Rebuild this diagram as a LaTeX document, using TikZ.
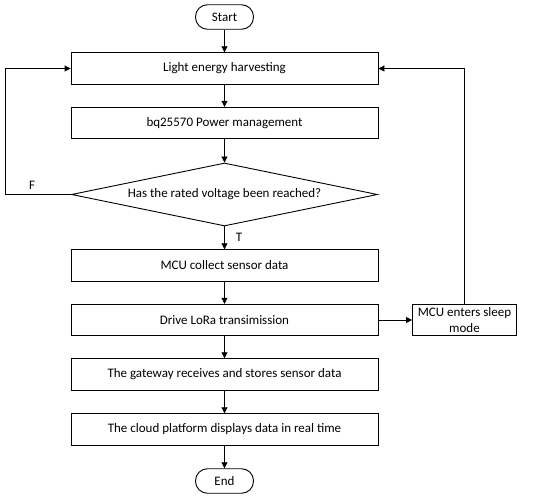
\documentclass[tikz,border=0pt]{standalone}
\usepackage{fontspec}
\setmainfont{Carlito}
\usetikzlibrary{shapes.geometric,arrows.meta}
\begin{document}
\begin{tikzpicture}[x=1pt,y=-1pt, font=\fontsize{13}{16}\selectfont,
  box/.style={draw, line width=0.9pt, minimum width=307pt, minimum height=31.5pt, inner sep=0pt},
  term/.style={draw, line width=0.9pt, rounded corners=12pt, minimum width=58pt, minimum height=24.5pt, inner sep=0pt},
  decision/.style={draw, line width=0.9pt, diamond, aspect=4.86, minimum width=306pt, minimum height=63pt, inner sep=0pt},
  sidebox/.style={draw, line width=0.9pt, minimum width=104pt, minimum height=31.5pt, inner sep=0pt, align=center, font=\fontsize{13}{16}\selectfont},
  arr/.style={-{Triangle[length=6pt,width=6pt]}, line width=0.9pt}]
\useasboundingbox (0,0) rectangle (550,500);
\node[term] (start) at (224.5,17) {Start};
\node[box] (b1) at (224.5,68.5) {Light energy harvesting};
\node[box] (b2) at (224.5,123) {bq25570 Power management};
\node[decision] (dec) at (224.5,194.5) {Has the rated voltage been reached?};
\node[box] (b3) at (224.5,265.5) {MCU collect sensor data};
\node[box] (b4) at (224.5,320) {Drive LoRa transimission};
\node[box] (b5) at (224.5,374.5) {The gateway receives and stores sensor data};
\node[box] (b6) at (224.5,429.5) {The cloud platform displays data in real time};
\node[term] (end) at (224.5,481) {End};
\node[sidebox] (side) at (464.5,320) {MCU enters sleep\\mode};
\coordinate (cl) at (5,194.5);
\node (lf) at (32,185) {F};
\node (lt) at (239,237) {T};
\draw[arr] (start) -- (b1);
\draw[arr] (b1) -- (b2);
\draw[arr] (b2) -- (dec);
\draw[arr] (dec) -- (b3);
\draw[arr] (b3) -- (b4);
\draw[arr] (b4) -- (b5);
\draw[arr] (b5) -- (b6);
\draw[arr] (b6) -- (end);
\draw[arr] (b4) -- (side);
\draw[arr] (dec.west) -- (cl) |- (b1.west);
\draw[arr] (side.north) |- (b1.east);
\end{tikzpicture}
\end{document}
